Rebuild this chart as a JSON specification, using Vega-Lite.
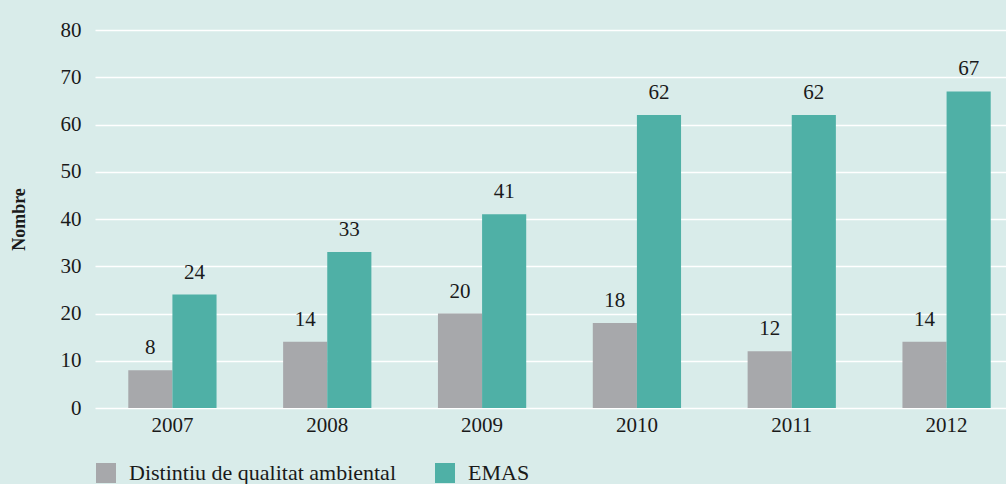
{
  "$schema": "https://vega.github.io/schema/vega-lite/v6.json",
  "autosize": {"type": "none"},
  "padding": {"left": 95, "top": 30, "right": 0, "bottom": 76},
  "width": 929,
  "height": 378,
  "background": "#d9ecea",
  "config": {
    "view": {"stroke": null},
    "font": "Liberation Serif",
    "axis": {"labelFont": "Liberation Serif", "titleFont": "Liberation Serif", "labelColor": "#1a1a1a", "titleColor": "#1a1a1a"},
    "legend": {"labelFont": "Liberation Serif"}
  },
  "data": {
    "values": [
      {"year": "2007", "serie": "Distintiu de qualitat ambiental", "value": 8},
      {"year": "2007", "serie": "EMAS", "value": 24},
      {"year": "2008", "serie": "Distintiu de qualitat ambiental", "value": 14},
      {"year": "2008", "serie": "EMAS", "value": 33},
      {"year": "2009", "serie": "Distintiu de qualitat ambiental", "value": 20},
      {"year": "2009", "serie": "EMAS", "value": 41},
      {"year": "2010", "serie": "Distintiu de qualitat ambiental", "value": 18},
      {"year": "2010", "serie": "EMAS", "value": 62},
      {"year": "2011", "serie": "Distintiu de qualitat ambiental", "value": 12},
      {"year": "2011", "serie": "EMAS", "value": 62},
      {"year": "2012", "serie": "Distintiu de qualitat ambiental", "value": 14},
      {"year": "2012", "serie": "EMAS", "value": 67}
    ]
  },
  "encoding": {
    "x": {
      "field": "year", "type": "nominal",
      "scale": {"paddingInner": 0.43, "paddingOuter": 0.215},
      "axis": {"title": null, "labelAngle": 0, "labelFontSize": 21, "ticks": false, "domain": false, "labelPadding": 6, "grid": false}
    },
    "xOffset": {"field": "serie", "type": "nominal", "scale": {"paddingInner": 0}},
    "y": {
      "field": "value", "type": "quantitative",
      "scale": {"domain": [0, 80], "nice": false},
      "axis": {"title": "Nombre", "titleFontSize": 18, "titleFontWeight": "bold", "titleX": -67, "titlePadding": 0, "values": [0,10,20,30,40,50,60,70,80], "labelFontSize": 21, "ticks": false, "domain": false, "labelPadding": 14, "grid": true, "gridColor": "#ffffff", "gridWidth": 1.5, "gridOpacity": 1}
    }
  },
  "layer": [
    {
      "mark": {"type": "bar"},
      "encoding": {
        "color": {
          "field": "serie", "type": "nominal",
          "scale": {"domain": ["Distintiu de qualitat ambiental", "EMAS"], "range": ["#a7a8ab", "#4fb0a6"]},
          "legend": {"title": null, "orient": "none", "legendX": 0, "legendY": 432, "direction": "horizontal", "symbolType": "square", "symbolSize": 400, "symbolStrokeWidth": 0, "labelFontSize": 22, "labelColor": "#1a1a1a", "labelLimit": 400, "columnPadding": 38, "labelOffset": 12}
        }
      }
    },
    {
      "mark": {"type": "text", "dy": -12, "fontSize": 21, "color": "#1a1a1a", "baseline": "bottom"},
      "encoding": {"text": {"field": "value", "type": "quantitative"}}
    }
  ]
}
